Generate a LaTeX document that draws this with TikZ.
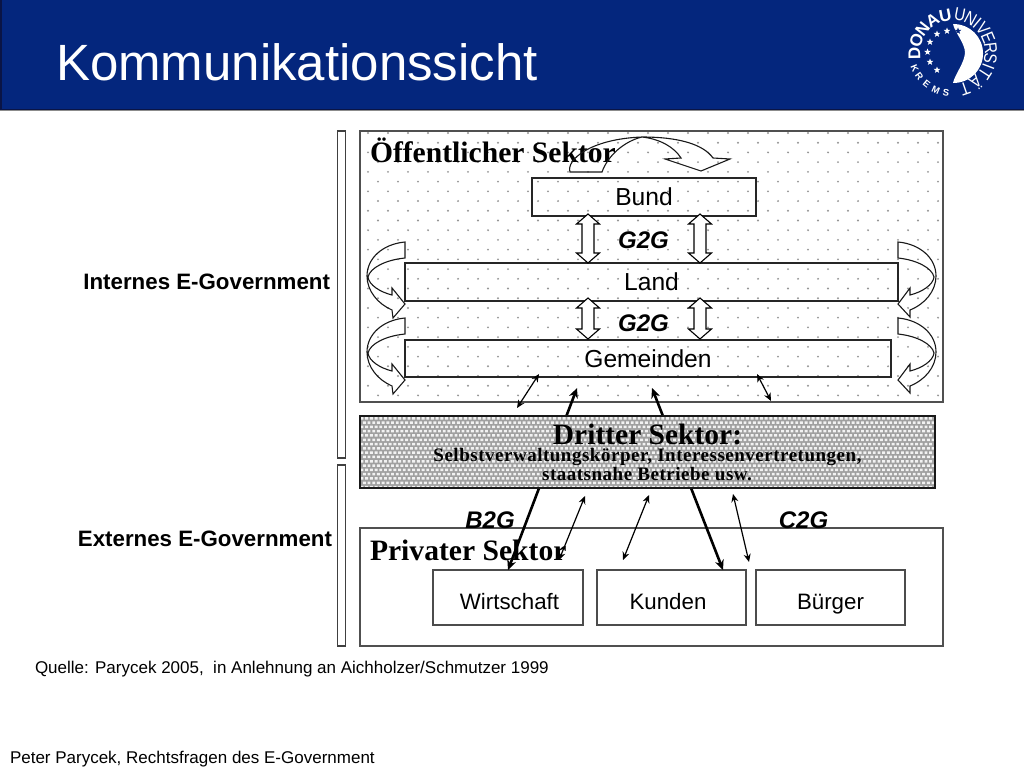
\documentclass[tikz,border=0pt]{standalone}
\usepackage{fontspec}
\setmainfont{Liberation Sans}
\newfontfamily\tmsfont{Liberation Serif}
\usetikzlibrary{arrows.meta,shapes.geometric}
\newcommand{\pxsize}[1]{\fontsize{#1}{#1}\selectfont}
\definecolor{bandblue}{RGB}{4,38,125}
\definecolor{bandedge}{RGB}{10,20,70}
\definecolor{dotgrey}{RGB}{150,150,150}
\definecolor{hatchgrey}{RGB}{160,160,160}
\definecolor{frameA}{RGB}{80,80,80}
\tikzset{
  x=1pt,y=-1pt,
  outer sep=0pt,
  lvlbox/.style={draw=black!85,line width=1.5pt,inner sep=0pt,font=\pxsize{24.6}},
  prvbox/.style={draw=black!70,line width=1.1pt,inner sep=0pt,font=\pxsize{22.3},text height=23pt,text depth=0pt},
  heading/.style={anchor=base west,inner sep=0pt,font=\tmsfont\bfseries\pxsize{29.6}},
  subhead/.style={anchor=base,inner sep=0pt,font=\tmsfont\bfseries\pxsize{19}\addfontfeature{LetterSpace=2.7}},
  g2g/.style={anchor=base,inner sep=0pt,font=\bfseries\itshape\pxsize{24}},
  sidelabel/.style={anchor=base east,inner sep=0pt,font=\bfseries\pxsize{22.3}},
  srcnote/.style={anchor=base west,inner sep=0pt,font=\pxsize{17}},
  thin arrow/.style={{Stealth[length=8pt,width=7pt]}-{Stealth[length=8pt,width=7pt]},line width=1.2pt,black},
  thick arrow/.style={{Stealth[length=10pt,width=9pt]}-{Stealth[length=10pt,width=9pt]},line width=2.6pt,black},
  hollow/.style={draw=black,line width=1.1pt,fill=white,line join=miter},
  curved/.style={draw=black!90,line width=1.1pt,line join=miter},
  logoB/.style={white,inner sep=0pt,font=\bfseries\pxsize{17}},
  logoR/.style={white,inner sep=0pt,font=\pxsize{18}},
  logoK/.style={white,inner sep=0pt,font=\bfseries\pxsize{9.5}},
  logostar/.style={star,star points=5,star point ratio=2.4,fill=#1,inner sep=0pt,minimum size=7pt},
}
\begin{document}
\begin{tikzpicture}
\useasboundingbox (0,0) rectangle (1024,768);
\fill[white] (0,0) rectangle (1024,768);
% header band
\fill[bandblue] (0,0) rectangle (1024,109);
\fill[bandedge] (0,0) rectangle (1.5,109);
\fill[bandedge] (0,108.5) rectangle (1024,110);
\fill[black!45] (0,110) rectangle (1024,111);
\node[anchor=base west,inner sep=0pt,white,font=\pxsize{51}] (title) at (56,81) {Kommunikationssicht};
% logo
\foreach \ch/\ang in {D/181,O/161,N/142,A/122,U/101}{
  \node[logoB,rotate=\ang-90] (logo\ch) at ({952.5+38*cos(\ang)},{52.5-38*sin(\ang)}) {\ch};
}
\foreach \i/\ch/\ang in {1/U/79,2/N/62,3/I/50,4/V/38,5/E/23,6/R/7,7/S/-9,8/I/-21,9/T/-33,10/Ä/-52,11/T/-71}{
  \node[logoR,rotate=\ang-90] (logou\i) at ({952.5+38.5*cos(\ang)},{52.5-38.5*sin(\ang)}) {\scalebox{0.85}[1]{\ch}};
}
\foreach \i/\ch/\ang in {1/K/203,2/R/216,3/E/231,4/M/246,5/S/261}{
  \node[logoK,rotate=\ang-270] (logok\i) at ({952.5+41*cos(\ang)},{52.5-41*sin(\ang)}) {\ch};
}
\fill[white] (953,24) .. controls (970,24) and (983,37) .. (983,53.5)
  .. controls (983,70) and (970,83) .. (953,83)
  .. controls (955,74) and (964,64) .. (965,53)
  .. controls (965,43) and (955,33) .. (953,24) -- cycle;
\foreach \i/\px/\py in {1/947/31,2/937/34,3/930/42,4/927.5/52,5/930/62,6/937/70}{
  \node[logostar=white] (star\i) at (\px,\py) {};
}
\node[logostar=bandblue] (star7) at (958,31) {};
% brackets
\draw[draw=black!75,line width=1.1pt] (337.5,131) rectangle (345.5,458);
\draw[draw=black!75,line width=1.1pt] (337.5,465) rectangle (345.5,646);
% public sector
\begin{scope}
\clip (360,131) rectangle (943,402);
\foreach \r in {0,1,...,27}{
  \pgfmathsetmacro{\yy}{133+9.72*\r}
  \pgfmathsetmacro{\xo}{mod(\r,2)==0 ? 368 : 378}
  \foreach \c in {0,1,...,29}{
    \fill[dotgrey] ({\xo+20*\c},\yy) circle (1.05);
  }
}
\end{scope}
\node[draw=frameA,line width=1.4pt,inner sep=0pt,minimum width=583pt,minimum height=271pt,anchor=north west] (public) at (360,131) {};
\node[lvlbox,minimum width=224pt,minimum height=38pt] (bund) at (644,197) {Bund};
\node[lvlbox,minimum width=493pt,minimum height=38pt] (land) at (651.5,282) {Land};
\node[lvlbox,minimum width=486pt,minimum height=37pt] (gem) at (648,358.5) {Gemeinden};
\node[heading] (hpub) at (370,162) {Öffentlicher Sektor};
% top curved arrow
\draw[curved] (570,172) .. controls (566,160) and (590,139) .. (642,137)
  .. controls (678,137) and (703,144) .. (713,158) -- (730,159) -- (701,171) -- (665,159) -- (681,158)
  .. controls (674,147) and (660,139) .. (642,137)
  .. controls (625,141) and (608,155) .. (602,172) -- cycle;
% side curved arrows
\foreach \d in {0,76}{
  \draw[curved,shift={(0,\d)}] (405,242) .. controls (383,244) and (367,258) .. (367,276)
    .. controls (367,291) and (378,304) .. (392,310) -- (393,318) -- (405,304) -- (392,288) -- (392,295)
    .. controls (380,292) and (369,285) .. (368,277)
    .. controls (370,268) and (385,260) .. (405,258) -- cycle;
  \draw[curved,shift={(0,\d)}] (898,242) .. controls (920,244) and (936,258) .. (936,276)
    .. controls (936,291) and (925,304) .. (910,310) -- (910,317) -- (898,304) -- (910,288) -- (910,295)
    .. controls (922,292) and (933,285) .. (934,277)
    .. controls (932,268) and (917,260) .. (898,258) -- cycle;
}
% hollow double arrows
\foreach \cx/\ytop/\ybot in {588/214/263,700/214/263,588/298/339,700/298/339}{
  \draw[hollow] (\cx,\ytop) -- ({\cx+11.5},{\ytop+10}) -- ({\cx+6},{\ytop+10}) -- ({\cx+6},{\ybot-10}) -- ({\cx+11.5},{\ybot-10})
    -- (\cx,\ybot) -- ({\cx-11.5},{\ybot-10}) -- ({\cx-6},{\ybot-10}) -- ({\cx-6},{\ytop+10}) -- ({\cx-11.5},{\ytop+10}) -- cycle;
}
\node[g2g] (gg1) at (643.5,248) {G2G};
\node[g2g] (gg2) at (643.5,331) {G2G};
% private sector
\node[draw=frameA,line width=1.1pt,inner sep=0pt,minimum width=583pt,minimum height=118pt,anchor=north west] (private) at (360,528) {};
\node[prvbox,minimum width=150pt,minimum height=55pt] (wirt) at (508,597.5) {\hspace*{3pt}Wirtschaft};
\node[prvbox,minimum width=149pt,minimum height=55pt] (kund) at (671.5,597.5) {\hspace*{-7pt}Kunden};
\node[prvbox,minimum width=149pt,minimum height=55pt] (buerg) at (830.5,597.5) {Bürger};
\node[heading] (hpriv) at (370,560) {Privater Sektor};
\node[g2g] (b2g) at (490,528) {B2G};
\node[g2g] (c2g) at (803.5,528) {C2G};
% connector end points
\coordinate (tA1) at (539,374);
\coordinate (tA2) at (517,408);
\coordinate (tB1) at (577,388);
\coordinate (tB2) at (508,570);
\coordinate (tC1) at (652,388);
\coordinate (tC2) at (723,570);
\coordinate (tD1) at (757,374);
\coordinate (tD2) at (771,401);
\coordinate (tE1) at (585,496);
\coordinate (tE2) at (559,560);
\coordinate (tF1) at (649,495);
\coordinate (tF2) at (623,560);
\coordinate (tG1) at (733,494);
\coordinate (tG2) at (749,562);
\draw[thick arrow] (tB1) -- (tB2);
\draw[thick arrow] (tC1) -- (tC2);
\draw[thin arrow] (tA1) -- (tA2);
\draw[thin arrow] (tD1) -- (tD2);
\draw[thin arrow] (tE1) -- (tE2);
\draw[thin arrow] (tF1) -- (tF2);
\draw[thin arrow] (tG1) -- (tG2);
% third sector
\fill[hatchgrey] (360,416) rectangle (935,488);
\begin{scope}
\clip (360,416) rectangle (935,488);
\fill[white!95!black]
  \foreach \r in {0,1,...,16}{
    \foreach \c in {0,1,...,123}{
      ({360.5+4.7*\c+2.35*mod(\r,2)},{417+4.3*\r}) rectangle ++(2.9,2.5)
    }
  };
\end{scope}
\node[draw=black!90,line width=2.4pt,inner sep=0pt,minimum width=575pt,minimum height=72pt,anchor=north west] (third) at (360,416) {};
\node[anchor=base,inner sep=0pt,font=\tmsfont\bfseries\pxsize{29.5}] (hthird) at (647.5,444) {Dritter Sektor:};
\node[subhead] (third1) at (647.5,461) {Selbstverwaltungskörper, Interessenvertretungen,};
\node[subhead] (third2) at (647,480) {staatsnahe Betriebe usw.};
% side labels
\node[sidelabel] (intern) at (330,289) {Internes E-Government};
\node[sidelabel] (extern) at (332,546) {Externes E-Government};
% notes
\node[srcnote] (quelle) at (35,673) {Quelle: Parycek 2005,\ \ in Anlehnung an Aichholzer/Schmutzer 1999};
\node[srcnote] (autor) at (10,763) {Peter Parycek, Rechtsfragen des E-Government};
\end{tikzpicture}
\end{document}
